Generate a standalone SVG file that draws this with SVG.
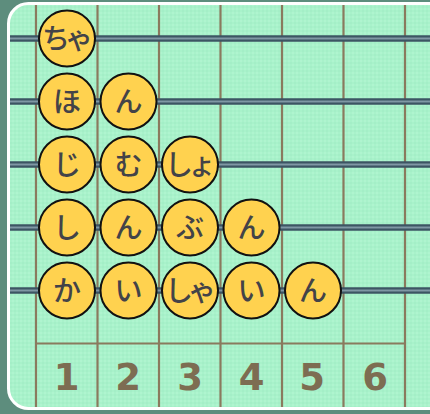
<svg xmlns="http://www.w3.org/2000/svg" width="430" height="414" viewBox="0 0 430 414">
<defs>
<pattern id="dots" width="4" height="4" patternUnits="userSpaceOnUse">
<rect width="4" height="4" fill="#a8f2ca"/>
<circle cx="1" cy="1" r="0.8" fill="#b8f7d6"/>
<circle cx="3" cy="3" r="0.8" fill="#a0eac4"/>
</pattern>
<style>
.grid{stroke:#8a7a5e;stroke-width:2.2;fill:none}
.rail-o{stroke:#3c5563;stroke-width:6.5}
.rail-i{stroke:#7f98a4;stroke-width:2}
.bead circle{fill:#ffd24f;stroke:#111;stroke-width:2}
.bead text{font-family:"Noto Sans CJK JP","Noto Sans",sans-serif;font-size:28px;font-weight:500;fill:#434348;text-anchor:middle}
.two{letter-spacing:-5px}
.num{font-family:"DejaVu Sans","Liberation Sans",sans-serif;font-weight:bold;font-size:37px;fill:#7d6d52;text-anchor:middle}
</style>
</defs>
<rect width="430" height="414" fill="#5d8d7d"/>
<rect x="8.5" y="3.5" width="440" height="405" rx="20" fill="url(#dots)" stroke="#ffffff" stroke-width="3"/>
<g id="grid">
<line class="grid" x1="36" y1="5" x2="36" y2="407"/>
<line class="grid" x1="97.5" y1="5" x2="97.5" y2="407"/>
<line class="grid" x1="159" y1="5" x2="159" y2="407"/>
<line class="grid" x1="220.5" y1="5" x2="220.5" y2="407"/>
<line class="grid" x1="282" y1="5" x2="282" y2="407"/>
<line class="grid" x1="343.5" y1="5" x2="343.5" y2="407"/>
<line class="grid" x1="405" y1="5" x2="405" y2="407"/>
<line class="grid" x1="36" y1="343.5" x2="405" y2="343.5"/>
</g>
<g id="connectors">
<line class="rail-o" x1="10" y1="38.5" x2="430" y2="38.5"/><line class="rail-i" x1="10" y1="38.5" x2="430" y2="38.5"/>
<line class="rail-o" x1="10" y1="101.5" x2="430" y2="101.5"/><line class="rail-i" x1="10" y1="101.5" x2="430" y2="101.5"/>
<line class="rail-o" x1="10" y1="164.5" x2="430" y2="164.5"/><line class="rail-i" x1="10" y1="164.5" x2="430" y2="164.5"/>
<line class="rail-o" x1="10" y1="227.5" x2="430" y2="227.5"/><line class="rail-i" x1="10" y1="227.5" x2="430" y2="227.5"/>
<line class="rail-o" x1="10" y1="290.5" x2="430" y2="290.5"/><line class="rail-i" x1="10" y1="290.5" x2="430" y2="290.5"/>
</g>
<g id="r1c1" class="bead"><circle cx="67" cy="38.5" r="28"/><text class="two" x="65" y="48.5">ちゃ</text></g>
<g id="r2c1" class="bead"><circle cx="67" cy="101.5" r="28"/><text x="67" y="111.5">ほ</text></g>
<g id="r2c2" class="bead"><circle cx="128.5" cy="101.5" r="28"/><text x="128.5" y="111.5">ん</text></g>
<g id="r3c1" class="bead"><circle cx="67" cy="164.5" r="28"/><text x="67" y="174.5">じ</text></g>
<g id="r3c2" class="bead"><circle cx="128.5" cy="164.5" r="28"/><text x="128.5" y="174.5">む</text></g>
<g id="r3c3" class="bead"><circle cx="190" cy="164.5" r="28"/><text class="two" x="188" y="174.5">しょ</text></g>
<g id="r4c1" class="bead"><circle cx="67" cy="227.5" r="28"/><text x="67" y="237.5">し</text></g>
<g id="r4c2" class="bead"><circle cx="128.5" cy="227.5" r="28"/><text x="128.5" y="237.5">ん</text></g>
<g id="r4c3" class="bead"><circle cx="190" cy="227.5" r="28"/><text x="190" y="237.5">ぶ</text></g>
<g id="r4c4" class="bead"><circle cx="251.5" cy="227.5" r="28"/><text x="251.5" y="237.5">ん</text></g>
<g id="r5c1" class="bead"><circle cx="67" cy="290.5" r="28"/><text x="67" y="300.5">か</text></g>
<g id="r5c2" class="bead"><circle cx="128.5" cy="290.5" r="28"/><text x="128.5" y="300.5">い</text></g>
<g id="r5c3" class="bead"><circle cx="190" cy="290.5" r="28"/><text class="two" x="188" y="300.5">しゃ</text></g>
<g id="r5c4" class="bead"><circle cx="251.5" cy="290.5" r="28"/><text x="251.5" y="300.5">い</text></g>
<g id="r5c5" class="bead"><circle cx="313" cy="290.5" r="28"/><text x="313" y="300.5">ん</text></g>
<g id="labels">
<text class="num" x="66.5" y="390">1</text>
<text class="num" x="128" y="390">2</text>
<text class="num" x="190" y="390">3</text>
<text class="num" x="251.5" y="390">4</text>
<text class="num" x="312" y="390">5</text>
<text class="num" x="375" y="390">6</text>
</g>
</svg>
